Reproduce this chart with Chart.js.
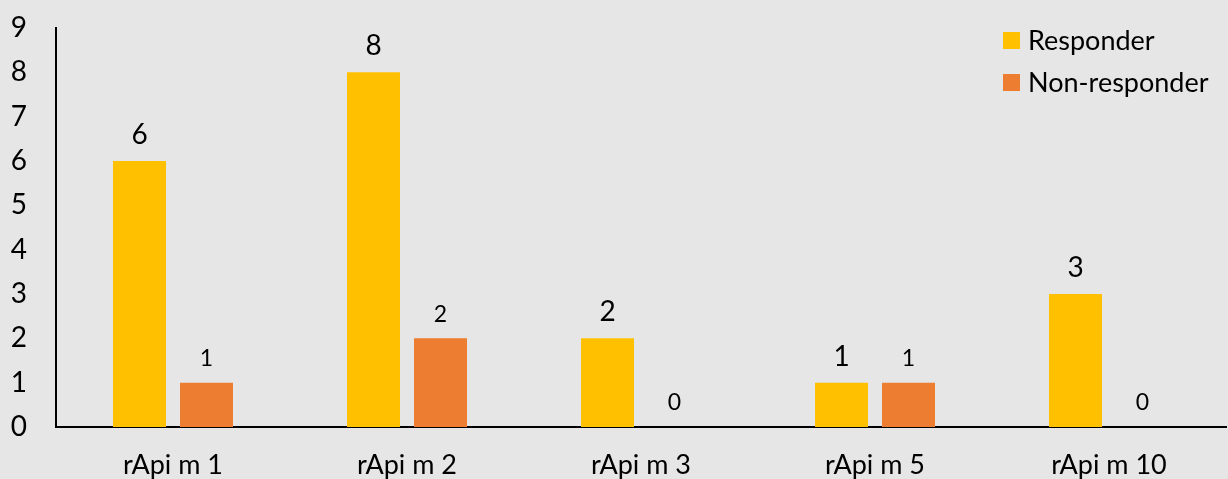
<!DOCTYPE html>
<html>
<head>
<meta charset="utf-8">
<script src="https://cdn.jsdelivr.net/npm/chart.js@4.4.1/dist/chart.umd.min.js"></script>
<style>
  html, body { margin: 0; padding: 0; background: #e6e6e6; }
  #wrap { width: 1228px; height: 479px; position: relative; }
</style>
</head>
<body>
<div id="wrap"><canvas id="c" width="1228" height="479"></canvas></div>
<script>
// Counts per rApi m group
const categories = ['rApi m 1', 'rApi m 2', 'rApi m 3', 'rApi m 5', 'rApi m 10'];
const responder = [6, 8, 2, 1, 3];
const nonResponder = [1, 2, 0, 1, 0];
const yTicks = [0, 1, 2, 3, 4, 5, 6, 7, 8, 9];

const FONT = 'Lato, "Open Sans", sans-serif';

// Value labels above each bar
const valueLabels = {
  id: 'valueLabels',
  afterDatasetsDraw(chart) {
    const ctx = chart.ctx;
    ctx.save();
    ctx.fillStyle = '#000';
    ctx.textAlign = 'center';
    ctx.textBaseline = 'middle';
    chart.data.datasets.forEach((ds, di) => {
      const meta = chart.getDatasetMeta(di);
      ctx.font = ds.labelSize + 'px ' + FONT;
      meta.data.forEach((bar, i) => {
        ctx.fillText(String(ds.data[i]), bar.x, bar.y - ds.labelOffset);
      });
    });
    ctx.restore();
  }
};

// Vertical legend at the top right of the plot
const cornerLegend = {
  id: 'cornerLegend',
  afterDraw(chart) {
    const ctx = chart.ctx;
    ctx.save();
    ctx.font = '27px ' + FONT;
    ctx.textBaseline = 'middle';
    ctx.textAlign = 'left';
    chart.data.datasets.forEach((ds, i) => {
      const y = 41 + i * 42;
      ctx.fillStyle = ds.backgroundColor;
      ctx.fillRect(1003, y - 9, 17, 17);
      ctx.fillStyle = '#000';
      ctx.fillText(ds.label, 1028, y);
    });
    ctx.restore();
  }
};

new Chart(document.getElementById('c'), {
  type: 'bar',
  data: {
    labels: categories,
    datasets: [
      { label: 'Responder', data: responder, backgroundColor: '#FFC000',
        labelSize: 28, labelOffset: 26 },
      { label: 'Non-responder', data: nonResponder, backgroundColor: '#ED7D31',
        labelSize: 23, labelOffset: 24 }
    ]
  },
  options: {
    responsive: false,
    animation: false,
    layout: { padding: { top: 28, right: 2, left: 0, bottom: 0 } },
    datasets: { bar: { categoryPercentage: 0.5726, barPercentage: 0.791 } },
    plugins: { legend: { display: false }, tooltip: { enabled: false } },
    scales: {
      x: {
        grid: { display: false, drawTicks: false },
        border: { color: '#000', width: 2 },
        ticks: { color: '#000', font: { family: FONT, size: 27 }, padding: 22 },
        afterFit(scale) {
          scale.height = 52;
          scale.paddingLeft = 0;
          scale.paddingRight = 0;
        }
      },
      y: {
        min: 0, max: 9,
        afterBuildTicks(scale) { scale.ticks = yTicks.map(v => ({ value: v })); },
        grid: { display: false, drawTicks: false },
        border: { color: '#000', width: 2 },
        ticks: { color: '#000', font: { family: FONT, size: 28 }, padding: 29 },
        afterFit(scale) {
          scale.width = 56;
          scale.paddingTop = 0;
          scale.paddingBottom = 0;
        }
      }
    }
  },
  plugins: [valueLabels, cornerLegend]
});
</script>
</body>
</html>
